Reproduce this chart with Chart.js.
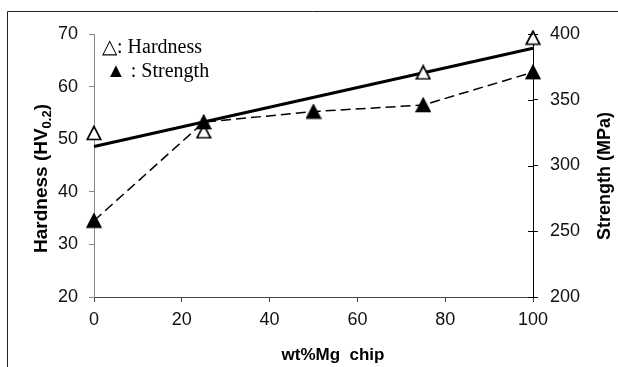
<!DOCTYPE html>
<html>
<head>
<meta charset="utf-8">
<script src="https://cdn.jsdelivr.net/npm/chart.js@4.4.0/dist/chart.umd.min.js"></script>
<style>
  html, body { margin: 0; padding: 0; background: #fff; }
  #wrap { position: relative; width: 618px; height: 367px; }
</style>
</head>
<body>
<div id="wrap"><canvas id="chart" width="618" height="367"></canvas></div>
<script>
// values
const hardnessMg = [0, 25, 75, 100];
const hardness = [51.2, 51.5, 62.7, 69.3];
const strengthMg = [0, 25, 50, 75, 100];
const strength = [258, 333, 341, 346, 371];
const trendMg = [0, 100];
const hardnessTrend = [48.6, 67.3];

const xTicks = [0, 20, 40, 60, 80, 100];
const hardnessTicks = [20, 30, 40, 50, 60, 70];
const strengthTicks = [200, 250, 300, 350, 400];

const SANS = '"Liberation Sans", Arial, sans-serif';
const SERIF = '"Liberation Serif", "Times New Roman", serif';

const toPoints = (xs, ys) => xs.map((x, i) => ({ x: x, y: ys[i] }));

// triangle marker centred in its box, like the spreadsheet markers
function triangleMarker(fill) {
    const c = document.createElement('canvas');
    c.width = 16;
    c.height = 16;
    const g = c.getContext('2d');
    g.beginPath();
    g.moveTo(8, 1.5);
    g.lineTo(1.2, 14.5);
    g.lineTo(14.8, 14.5);
    g.closePath();
    g.fillStyle = fill;
    g.fill();
    g.strokeStyle = '#000';
    g.lineWidth = 1.7;
    g.stroke();
    return c;
}
const openTriangle = triangleMarker('#fff');
const solidTriangle = triangleMarker('#000');

// outer frame (only the top and left edges show in the original)
const framePlugin = {
    id: 'frame',
    beforeDraw(chart) {
        const ctx = chart.ctx;
        ctx.save();
        ctx.strokeStyle = '#222';
        ctx.lineWidth = 1;
        ctx.beginPath();
        ctx.moveTo(7.5, 367);
        ctx.lineTo(7.5, 11.5);
        ctx.lineTo(618, 11.5);
        ctx.stroke();
        ctx.restore();
    }
};

const extrasPlugin = {
    id: 'extras',
    afterDraw(chart) {
        const ctx = chart.ctx;
        const area = chart.chartArea;
        const y2 = chart.scales.y2;

        ctx.save();

        // right axis ticks also reach into the plot
        ctx.strokeStyle = '#000';
        ctx.lineWidth = 1;
        y2.ticks.forEach(t => {
            const py = Math.round(y2.getPixelForValue(t.value)) + 0.5;
            ctx.beginPath();
            ctx.moveTo(area.right - 5, py);
            ctx.lineTo(area.right, py);
            ctx.stroke();
        });

        ctx.fillStyle = '#000';

        // x title
        ctx.font = 'bold 17px ' + SANS;
        ctx.textAlign = 'center';
        ctx.textBaseline = 'alphabetic';
        ctx.fillText('wt%Mg  chip', 333, 360);

        // left title with subscript
        ctx.save();
        ctx.translate(47, 178.5);
        ctx.rotate(-Math.PI / 2);
        ctx.textAlign = 'left';
        const main = 'Hardness (HV';
        const sub = '0.2';
        ctx.font = 'bold 19px ' + SANS;
        const wMain = ctx.measureText(main).width;
        const wClose = ctx.measureText(')').width;
        ctx.font = 'bold 13px ' + SANS;
        const wSub = ctx.measureText(sub).width;
        let x0 = -(wMain + wSub + wClose) / 2;
        ctx.font = 'bold 19px ' + SANS;
        ctx.fillText(main, x0, 0);
        ctx.font = 'bold 13px ' + SANS;
        ctx.fillText(sub, x0 + wMain, 4);
        ctx.font = 'bold 19px ' + SANS;
        ctx.fillText(')', x0 + wMain + wSub, 0);
        ctx.restore();

        // right title
        ctx.save();
        ctx.translate(610, 176);
        ctx.rotate(-Math.PI / 2);
        ctx.font = 'bold 18px ' + SANS;
        ctx.textAlign = 'center';
        ctx.fillText('Strength (MPa)', 0, 0);
        ctx.restore();

        // legend text inside the plot
        ctx.font = '20px ' + SERIF;
        ctx.textAlign = 'left';
        ctx.fillText('\u25B3: Hardness', 102, 53);
        ctx.fillText('\u25B2 : Strength', 106, 77);

        ctx.restore();
    }
};

const tickFont = { family: SANS, size: 18 };

new Chart(document.getElementById('chart'), {
    type: 'line',
    data: {
        datasets: [{
            label: 'Strength',
            data: toPoints(strengthMg, strength),
            yAxisID: 'y2',
            borderColor: '#000',
            borderWidth: 1.5,
            borderDash: [10, 5],
            pointStyle: solidTriangle,
            pointRadius: 8,
            clip: false,
            order: 0
        }, {
            label: 'Hardness',
            data: toPoints(hardnessMg, hardness),
            yAxisID: 'y',
            showLine: false,
            pointStyle: openTriangle,
            pointRadius: 8,
            clip: false,
            order: 1
        }, {
            label: 'Hardness trend',
            data: toPoints(trendMg, hardnessTrend),
            yAxisID: 'y',
            borderColor: '#000',
            borderWidth: 3,
            pointRadius: 0,
            clip: false,
            order: 2
        }]
    },
    options: {
        responsive: false,
        animation: false,
        devicePixelRatio: 1,
        layout: { padding: { top: 34, left: 0, right: 0, bottom: 0 } },
        plugins: {
            legend: { display: false },
            tooltip: { enabled: false }
        },
        scales: {
            x: {
                type: 'linear',
                min: 0,
                max: 100,
                afterBuildTicks: s => { s.ticks = xTicks.map(v => ({ value: v })); },
                afterFit: s => { s.height = 70; },
                border: { color: '#444', width: 1 },
                grid: { drawOnChartArea: false, tickLength: 5, color: '#444' },
                ticks: { font: tickFont, color: '#111', padding: 7, maxRotation: 0 }
            },
            y: {
                type: 'linear',
                position: 'left',
                min: 20,
                max: 70,
                afterBuildTicks: s => { s.ticks = hardnessTicks.map(v => ({ value: v })); },
                afterFit: s => { s.width = 94; },
                border: { color: '#888', width: 1 },
                grid: { drawOnChartArea: false, tickLength: 5, color: '#888' },
                ticks: { font: tickFont, color: '#111', padding: 11 }
            },
            y2: {
                type: 'linear',
                position: 'right',
                min: 200,
                max: 400,
                afterBuildTicks: s => { s.ticks = strengthTicks.map(v => ({ value: v })); },
                afterFit: s => { s.width = 85; },
                border: { color: '#000', width: 1 },
                grid: { drawOnChartArea: false, tickLength: 5, color: '#000' },
                ticks: { font: tickFont, color: '#111', padding: 12 }
            }
        }
    },
    plugins: [framePlugin, extrasPlugin]
});
</script>
</body>
</html>
